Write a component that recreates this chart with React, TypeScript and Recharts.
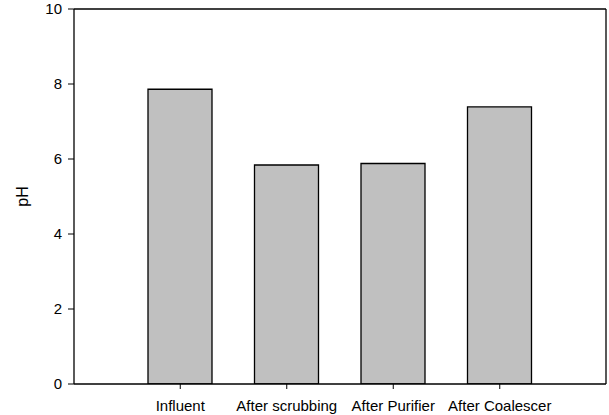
import React from 'react';
import { BarChart, Bar, XAxis, YAxis, Label, CartesianGrid } from 'recharts';

const categories = ['Influent', 'After scrubbing', 'After Purifier', 'After Coalescer'];
const phValues = [7.86, 5.84, 5.88, 7.39];
const yTicks = [0, 2, 4, 6, 8, 10];

const data = categories.map((name, i) => ({ name, ph: phValues[i] }));

const FONT = 'Liberation Sans, Arial, sans-serif';

export default function App() {
  return (
    <div style={{ position: 'absolute', left: 0, top: 0, background: '#fff' }}>
      <BarChart
        width={609}
        height={415}
        data={data}
        margin={{ top: 9, right: 3, left: 0, bottom: 0 }}
      >
        <CartesianGrid
          stroke="#000"
          strokeWidth={1.3}
          horizontalCoordinatesGenerator={(p: any) => [p.offset.top]}
          verticalCoordinatesGenerator={(p: any) => [p.offset.left + p.offset.width]}
        />
        <XAxis
          dataKey="name"
          height={31}
          padding={{ left: 53, right: 53 }}
          axisLine={{ stroke: '#000', strokeWidth: 1.3 }}
          tickLine={{ stroke: '#000' }}
          tickSize={5}
          tickMargin={11}
          tick={{ fill: '#000', fontSize: 15, fontFamily: FONT }}
          interval={0}
        />
        <YAxis
          width={74}
          domain={[0, 10]}
          ticks={yTicks}
          allowDataOverflow
          axisLine={{ stroke: '#000', strokeWidth: 1.3 }}
          tickLine={{ stroke: '#000' }}
          tickSize={6}
          tickMargin={6}
          tick={{ fill: '#000', fontSize: 15, fontFamily: FONT }}
        >
          <Label
            value="pH"
            angle={-90}
            position="insideLeft"
            offset={22}
            style={{ fill: '#000', fontSize: 16, fontFamily: FONT, textAnchor: 'middle' }}
          />
        </YAxis>
        <Bar
          dataKey="ph"
          fill="#c0c0c0"
          stroke="#000"
          strokeWidth={1.3}
          barSize={64}
          isAnimationActive={false}
        />
      </BarChart>
    </div>
  );
}
